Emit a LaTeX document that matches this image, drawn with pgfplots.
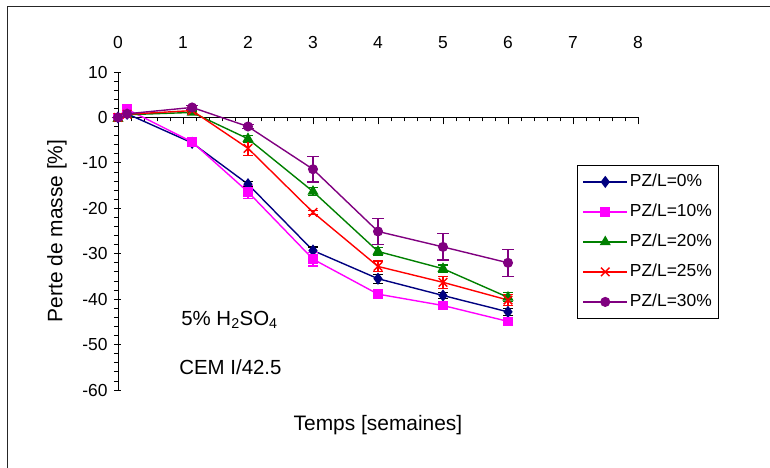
\documentclass[border=0pt]{standalone}
\usepackage{pgfplots}
\pgfplotsset{compat=1.18}
\usepackage{pgfplotstable}
\usepackage{fontspec}
\setmainfont{Liberation Sans}

\definecolor{cnavy}{RGB}{0,0,128}
\definecolor{cmag}{RGB}{255,0,255}
\definecolor{cgreen}{RGB}{0,128,0}
\definecolor{cred}{RGB}{255,0,0}
\definecolor{cpurp}{RGB}{128,0,128}

% x = semaines, y = perte de masse [%], e = ecart
\pgfplotstableread{
x y e
0 0 0
0.14 0.8 0
1.14 -5.6 0.4
2 -14.7 0.6
3 -29.3 0.8
4 -35.5 1.0
5 -39.2 0.7
6 -42.8 0.8
}\tabA
\pgfplotstableread{
x y e
0 0 0
0.14 1.8 0
1.14 -5.4 0.4
2 -16.4 1.5
3 -31.2 1.5
4 -38.9 0.7
5 -41.4 0.7
6 -44.9 0.8
}\tabB
\pgfplotstableread{
x y e
0 -0.3 0
0.14 0.6 0
1.14 1.1 0.3
2 -4.7 0.8
3 -16.3 0.8
4 -29.5 0.8
5 -33.3 0.8
6 -39.6 1.0
}\tabC
\pgfplotstableread{
x y e
0 0 0
0.14 0.7 0
1.14 1.5 0.4
2 -6.8 1.5
3 -20.9 0.5
4 -32.8 1.2
5 -36.3 1.3
6 -40.2 1.2
}\tabD
\pgfplotstableread{
x y e
0 0 0
0.14 0.8 0
1.14 2.2 0.4
2 -2.0 0.5
3 -11.4 2.8
4 -25.1 2.8
5 -28.5 2.9
6 -32.0 3.0
}\tabE

\begin{document}
\begin{tikzpicture}
\useasboundingbox (-118bp,-78bp) rectangle (652bp,390bp);
\draw[line width=1bp, black!85] (-110bp,-120bp) -- (-110bp,383bp) -- (720bp,383bp);
\begin{axis}[
  scale only axis, width=520bp, height=318bp,
  xmin=0, xmax=8, ymin=-60, ymax=10,
  axis x line=middle, axis y line=left,
  axis line style={-, black, line width=0.8bp},
  xtick={0,...,8}, ytick={-60,-50,...,10},
  minor x tick num=4, minor y tick num=4,
  tick align=outside,
  major tick length=7bp, minor tick length=4bp,
  tick style={black, line width=0.8bp},
  major y tick style={xshift=3.5bp},
  hide obscured x ticks=false, hide obscured y ticks=false,
  ticklabel style={font=\fontsize{17.5}{20}\selectfont},
  xticklabel style={anchor=center, yshift=82bp},
  yticklabel style={anchor=east},
  /pgf/number format/assume math mode=true,
  clip=false,
  legend style={at={(0.883,0.7075)}, anchor=north west, draw=black, fill=white,
    line width=0.8bp, font=\fontsize{17.5}{20}\selectfont, row sep=11bp,
    inner xsep=5bp, inner ysep=7bp,
    nodes={text height=12bp, text depth=3bp, inner sep=2bp}},
  legend cell align=left,
  legend image code/.code={\draw[mark repeat=2,mark phase=2,#1] plot coordinates {(0bp,0bp) (22bp,0bp) (44bp,0bp)};},
  every axis plot/.append style={line width=1.4bp},
]
\addplot[cnavy, mark=diamond*, mark size=5bp, mark options={solid},
  error bars/.cd, y dir=both, y explicit,
  error bar style={black, line width=1.2bp},
  error mark options={black, rotate=90, mark size=5bp, line width=1.2bp}]
  table[x=x, y=y, y error=e] {\tabA};
\addlegendentry{PZ/L=0\%}
\addplot[cmag, mark=square*, mark size=4.2bp, mark options={solid},
  error bars/.cd, y dir=both, y explicit,
  error bar style={line width=1.2bp},
  error mark options={rotate=90, mark size=5bp, line width=1.2bp}]
  table[x=x, y=y, y error=e] {\tabB};
\addlegendentry{PZ/L=10\%}
\addplot[cgreen, mark=triangle*, mark size=5bp, mark options={solid},
  error bars/.cd, y dir=both, y explicit,
  error bar style={line width=1.2bp},
  error mark options={rotate=90, mark size=5bp, line width=1.2bp}]
  table[x=x, y=y, y error=e] {\tabC};
\addlegendentry{PZ/L=20\%}
\addplot[cred, mark=x, mark size=6bp, mark options={solid, line width=1.5bp},
  error bars/.cd, y dir=both, y explicit,
  error bar style={line width=1.2bp},
  error mark options={rotate=90, mark size=5bp, line width=1.2bp}]
  table[x=x, y=y, y error=e] {\tabD};
\addlegendentry{PZ/L=25\%}
\addplot[cpurp, mark=*, mark size=4.3bp, mark options={solid},
  error bars/.cd, y dir=both, y explicit,
  error bar style={line width=1.2bp},
  error mark options={rotate=90, mark size=6bp, line width=1.2bp}]
  table[x=x, y=y, y error=e] {\tabE};
\addlegendentry{PZ/L=30\%}

\node[font=\fontsize{21}{24}\selectfont] at (axis description cs:0.5,-0.11) {Temps [semaines]};
\node[font=\fontsize{21}{24}\selectfont, rotate=90] at (axis description cs:-0.1173,0.5) {Perte de masse [\%]};
\node[font=\fontsize{20.5}{24}\selectfont, anchor=base west] at (axis cs:0.92,-45.8) {5\% H\textsubscript{2}SO\textsubscript{4}};
\node[font=\fontsize{20.5}{24}\selectfont, anchor=base west] at (axis cs:0.89,-56.6) {CEM I/42.5};
\end{axis}
\end{tikzpicture}
\end{document}
